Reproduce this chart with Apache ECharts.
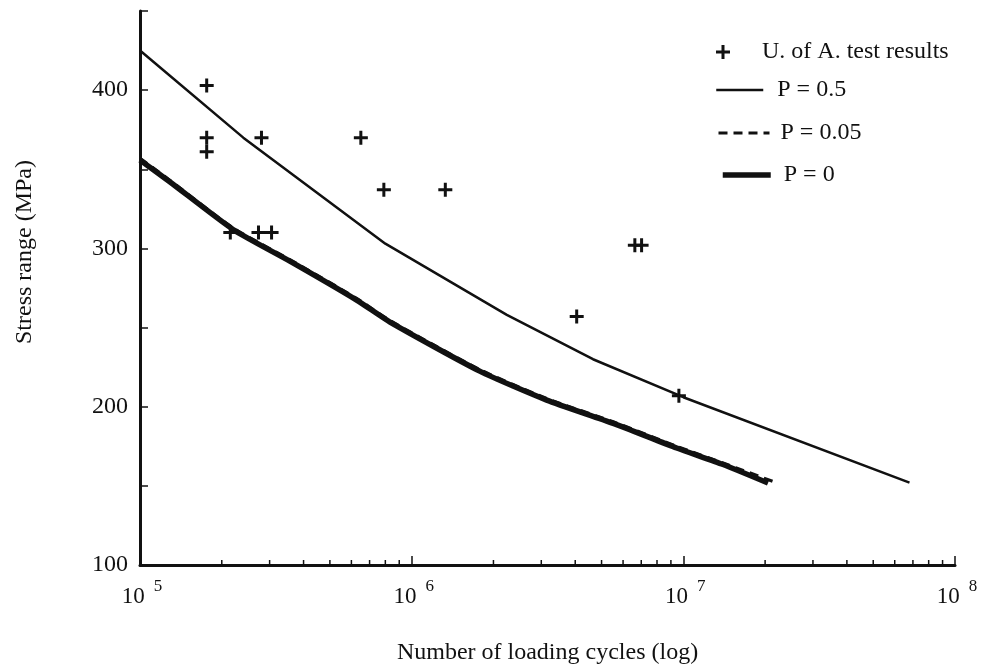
<!DOCTYPE html>
<html>
<head>
<meta charset="utf-8">
<script src="https://cdn.jsdelivr.net/npm/echarts@6/dist/echarts.min.js"></script>
<style>
  html, body { margin: 0; padding: 0; background: #fff; }
  #chart { width: 982px; height: 668px; }
</style>
</head>
<body>
<div id="chart"></div>
<script>
// Fatigue test results (cycles to failure, stress range in MPa)
const testCycles = [1.76e5, 1.76e5, 1.76e5, 2.8e5, 6.5e5, 7.9e5, 2.15e5, 2.73e5, 3.05e5, 1.33e6, 6.63e6, 7.02e6, 4.05e6, 9.63e6];
const testStress = [403, 370, 361, 370, 370, 337, 310, 310, 310, 337, 302, 302, 257, 207];

// Predicted S-N curve, probability of failure P = 0.5
const p50Cycles = [1e5, 2.4e5, 8.0e5, 2.24e6, 4.65e6, 1e7, 6.8e7];
const p50Stress = [425, 370, 303, 258, 230, 206, 152];

// Predicted S-N curve, P = 0.05
const p05Cycles = [1e5, 1.29e5, 2.2e5, 3.56e5, 6.27e5, 8.32e5, 1.78e6, 3.14e6, 5.52e6, 9.45e6, 1.4e7, 2.2e7];
const p05Stress = [357, 343, 313, 293, 268.5, 254.5, 223.5, 205.2, 190.5, 175, 164.5, 152];

// Predicted S-N curve, P = 0
const p0Cycles = [1e5, 1.29e5, 2.2e5, 3.56e5, 6.27e5, 8.32e5, 1.78e6, 3.14e6, 5.52e6, 9.45e6, 1.4e7, 2.05e7];
const p0Stress = [355.8, 342, 312, 292, 267.4, 253.5, 222.5, 204.2, 189.5, 173.9, 163.5, 151.8];

// Axis setup
const xMin = 1e5, xMax = 1e8;
const yMin = 100, yMax = 450;
const yTickLabels = [100, 200, 300, 400];
const xMinorMultipliers = [2, 3, 4, 5, 6, 7, 8, 9];
const xDecades = [1e5, 1e6, 1e7];

const names = ['U. of A. test results', 'P = 0.5', 'P = 0.05', 'P = 0'];

const zip = (a, b) => a.map((v, i) => [v, b[i]]);
const minorTicks = [];
xDecades.forEach(d => xMinorMultipliers.forEach(m => minorTicks.push([m * d, yMin])));

const FONT = '"Liberation Serif", "Times New Roman", serif';
const INK = '#111';
const plusIcon = 'path://M5.5,0 H8.5 V5.5 H14 V8.5 H8.5 V14 H5.5 V8.5 H0 V5.5 H5.5 Z';

// Line styles shared by the curves and their legend keys
const p50Line = { color: INK, width: 2.5, type: 'solid' };
const p05Line = { color: INK, width: 3, type: [9, 6] };
const p0Line = { color: INK, width: 5.5, type: 'solid' };

const chart = echarts.init(document.getElementById('chart'), null, { renderer: 'canvas' });

const legendText = padLeft => ({
  fontFamily: FONT, fontSize: 24, color: INK, lineHeight: 24,
  padding: [0, 0, 0, padLeft]
});

const lineLegend = (left, top, width, padLeft, name, style) => ({
  orient: 'vertical',
  selectedMode: false,
  padding: 0,
  left: left,
  top: top,
  itemWidth: width,
  itemHeight: 14,
  itemStyle: { opacity: 0 },
  lineStyle: { color: style.color, width: style.width, type: style.type, opacity: 1 },
  data: [name],
  textStyle: legendText(padLeft)
});

chart.setOption({
  animation: false,
  backgroundColor: '#fff',
  grid: { left: 140, right: 27, top: 11, bottom: 103, containLabel: false, outerBoundsMode: 'none' },
  xAxis: {
    type: 'log',
    logBase: 10,
    min: xMin,
    max: xMax,
    name: 'Number of loading cycles (log)',
    nameLocation: 'middle',
    nameGap: 76,
    nameTextStyle: { fontFamily: FONT, fontSize: 24, color: INK },
    axisLine: { lineStyle: { color: INK, width: 3 } },
    axisTick: { inside: true, length: 9, lineStyle: { color: INK, width: 1.5 } },
    splitLine: { show: false },
    axisLabel: {
      margin: 13,
      formatter: v => '{b|10}{s|' + Math.round(Math.log10(v)) + '}',
      rich: {
        b: { fontFamily: FONT, fontSize: 23, color: INK, lineHeight: 30, verticalAlign: 'bottom', padding: [0, 0, 0, 4] },
        s: { fontFamily: FONT, fontSize: 17, color: INK, lineHeight: 16, verticalAlign: 'top', padding: [0, 0, 0, 9] }
      }
    }
  },
  yAxis: {
    type: 'value',
    min: yMin,
    max: yMax,
    interval: 50,
    axisLine: { show: true, lineStyle: { color: INK, width: 3 } },
    axisTick: { show: true, inside: true, length: 8, lineStyle: { color: INK, width: 1.5 } },
    splitLine: { show: false },
    axisLabel: {
      margin: 12,
      fontFamily: FONT,
      fontSize: 24,
      color: INK,
      formatter: v => (yTickLabels.indexOf(v) >= 0 ? String(v) : '')
    }
  },
  legend: [
    {
      orient: 'vertical',
      selectedMode: false,
      padding: 0,
      left: 716,
      top: 40,
      itemWidth: 16,
      itemHeight: 14,
      data: [{ name: names[0], icon: plusIcon, itemStyle: { color: INK, opacity: 1 } }],
      textStyle: legendText(26)
    },
    lineLegend(715, 78, 47, 9, names[1], p50Line),
    lineLegend(717, 121, 51, 6, names[2], p05Line),
    lineLegend(720, 163, 48, 8, names[3], p0Line)
  ],
  graphic: [{
    type: 'text',
    x: 25,
    y: 252,
    rotation: Math.PI / 2,
    style: {
      text: 'Stress range (MPa)',
      fontFamily: FONT,
      fontSize: 24,
      fill: INK,
      align: 'center',
      verticalAlign: 'middle'
    }
  }],
  series: [
    {
      name: 'minor ticks',
      type: 'custom',
      silent: true,
      clip: false,
      data: minorTicks,
      encode: { x: 0, y: 1 },
      renderItem: (params, api) => {
        const p = api.coord([api.value(0), api.value(1)]);
        return {
          type: 'line',
          shape: { x1: p[0], y1: p[1], x2: p[0], y2: p[1] - 5 },
          style: { stroke: INK, lineWidth: 1.5 }
        };
      },
      z: 1
    },
    {
      name: names[3],
      type: 'line',
      data: zip(p0Cycles, p0Stress),
      showSymbol: false,
      symbol: 'none',
      smooth: 0.2,
      lineStyle: p0Line,
      itemStyle: { color: INK },
      z: 2
    },
    {
      name: names[2],
      type: 'line',
      data: zip(p05Cycles, p05Stress),
      showSymbol: false,
      symbol: 'none',
      smooth: 0.2,
      lineStyle: p05Line,
      itemStyle: { color: INK },
      z: 3
    },
    {
      name: names[1],
      type: 'line',
      data: zip(p50Cycles, p50Stress),
      showSymbol: false,
      symbol: 'none',
      lineStyle: p50Line,
      itemStyle: { color: INK },
      z: 3
    },
    {
      name: names[0],
      type: 'scatter',
      data: zip(testCycles, testStress),
      symbol: plusIcon,
      symbolSize: 14,
      itemStyle: { color: INK, opacity: 1 },
      z: 4
    }
  ]
});
</script>
</body>
</html>
